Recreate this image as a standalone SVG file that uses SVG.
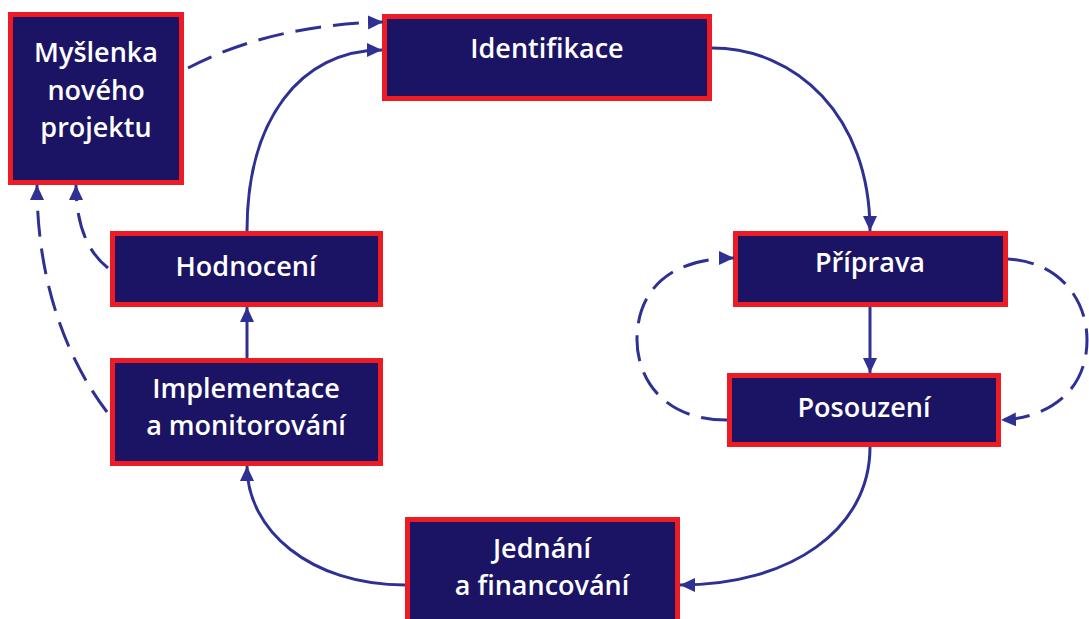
<svg xmlns="http://www.w3.org/2000/svg" width="1089" height="619" viewBox="0 0 1089 619">
<defs>
<style>
.box{fill:#1b1464;stroke:#ed1c24;stroke-width:5}
.t{fill:#ffffff;font-family:"Open Sans","Noto Sans",sans-serif;font-weight:600;font-size:27px;text-anchor:middle}
.c{fill:none;stroke:#2e3192;stroke-width:3}
.d{stroke-dasharray:26 12}
</style>
<marker id="ah" markerUnits="userSpaceOnUse" markerWidth="18" markerHeight="16" refX="15" refY="7" orient="auto">
<path d="M0,0 L15,7 L0,14 Z" fill="#2e3192"/>
</marker>
</defs>
<rect width="1089" height="619" fill="#ffffff"/>
<g id="n-myslenka"><rect class="box" x="10.5" y="14.5" width="171" height="168"/>
<text class="t" x="96" y="62">Myšlenka</text><text class="t" x="96" y="100">nového</text><text class="t" x="96" y="137">projektu</text></g>
<g id="n-identifikace"><rect class="box" x="384.5" y="16.5" width="325" height="82"/><text class="t" x="547" y="58">Identifikace</text></g>
<g id="n-priprava"><rect class="box" x="735.5" y="233.5" width="270" height="71"/><text class="t" x="870" y="272">Příprava</text></g>
<g id="n-posouzeni"><rect class="box" x="729.5" y="375.5" width="269" height="69"/><text class="t" x="864" y="417">Posouzení</text></g>
<g id="n-jednani"><rect class="box" x="407.5" y="519.5" width="270" height="110"/><text class="t" x="542" y="558">Jednání</text><text class="t" x="542" y="595">a financování</text></g>
<g id="n-implementace"><rect class="box" x="112.5" y="360.5" width="268" height="103"/><text class="t" x="246" y="398">Implementace</text><text class="t" x="246" y="435">a monitorování</text></g>
<g id="n-hodnoceni"><rect class="box" x="112.5" y="233.5" width="268" height="71"/><text class="t" x="246" y="276">Hodnocení</text></g>
<g id="connectors">
<path class="c" d="M712,48 C795,48 870,115 870,231" marker-end="url(#ah)"/>
<path class="c" d="M870,307 L870,373" marker-end="url(#ah)"/>
<path class="c" d="M870,447 C870,530 790,585 680,585" marker-end="url(#ah)"/>
<path class="c" d="M405,585 C310,585 247,530 247,466" marker-end="url(#ah)"/>
<path class="c" d="M247,358 L247,307" marker-end="url(#ah)"/>
<path class="c" d="M247,231 C247,120 300,50 382,50" marker-end="url(#ah)"/>
<path class="c d" d="M188,68 Q270,25 383,22" marker-end="url(#ah)"/>
<path class="c d" d="M108,268 C85,250 76,220 76,185" marker-end="url(#ah)"/>
<path class="c d" d="M107,412 C60,350 37,270 37,185" marker-end="url(#ah)"/>
<path class="c d" d="M727,420 C660,420 637,375 637,340 C637,290 670,258 734,258" marker-end="url(#ah)"/>
<path class="c d" d="M1008,259 C1060,262 1087,300 1087,340 C1087,390 1050,418 1001,420" marker-end="url(#ah)"/>
</g>
</svg>
